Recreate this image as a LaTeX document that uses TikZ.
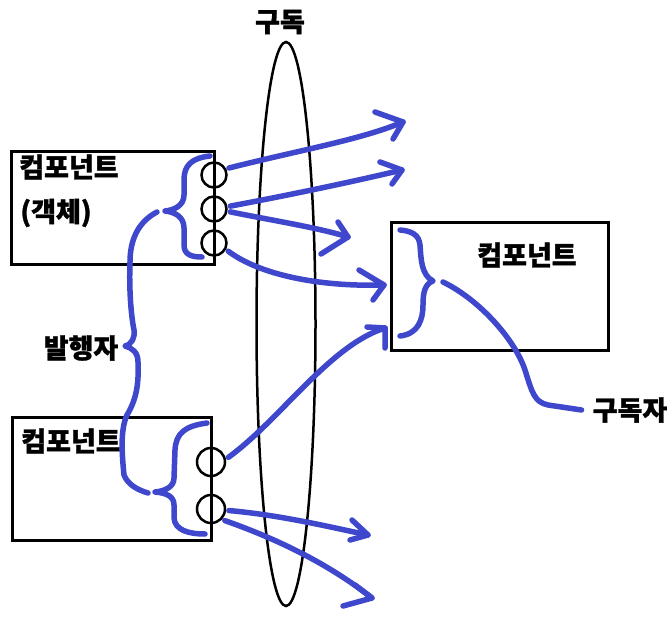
\documentclass[tikz,border=0pt]{standalone}
\usepackage{fontspec}
\newfontfamily\kr{Noto Sans CJK KR}[BoldFeatures={FakeBold=1.2}]
\usetikzlibrary{shapes.geometric,calc}
\definecolor{penblue}{RGB}{63,72,204}
\tikzset{
  blueline/.style={draw=penblue, line width=5.5pt, line cap=round, line join=round},
  compbox/.style={draw=black, line width=3pt, rectangle, inner sep=0pt},
  port/.style={draw=black, line width=2.5pt, circle, inner sep=0pt, minimum size=25pt, outer sep=4pt},
  lbl/.style={font=\kr\bfseries\fontsize{27}{30}\selectfont, inner sep=0pt, text=black},
}
\begin{document}
\begin{tikzpicture}[x=1pt,y=-1pt]
\useasboundingbox[fill=white] (0,0) rectangle (672,620);

% boxes
\node[compbox, minimum width=203pt, minimum height=113pt] (box1) at (112.5,208.5) {};
\node[compbox, minimum width=199pt, minimum height=123pt] (box2) at (111.5,478.5) {};
\node[compbox, minimum width=217pt, minimum height=127pt] (box3) at (499.5,286.5) {};

% subscription ellipse
\node[draw=black, line width=2.5pt, ellipse, minimum width=59pt, minimum height=564pt, inner sep=0pt] (sub) at (286,324) {};

% labels
\node[lbl] (t-sub) at (280,22) {구독};
\node[lbl] (t-c1) at (69,167) {컴포넌트};
\node[lbl] (t-obj) at (56,213) {(객체)};
\node[lbl] (t-c2) at (71,441) {컴포넌트};
\node[lbl] (t-c3) at (527,255) {컴포넌트};
\node[lbl] (t-pub) at (81,348) {발행자};
\node[lbl] (t-subr) at (630,410) {구독자};

% ports
\node[port] (c1) at (214,175) {};
\node[port] (c2) at (214,209) {};
\node[port] (c3) at (214,243) {};
\node[port, minimum size=28pt] (d1) at (211,462) {};
\node[port, minimum size=28pt] (d2) at (211,509) {};

% arrow tips
\coordinate (a1) at (403,122);
\coordinate (a2) at (402,170);
\coordinate (a3) at (348,237);
\coordinate (a4) at (384,285);
\coordinate (a5) at (385,328);
\coordinate (a6) at (368,535);
\coordinate (a7) at (372,598);

% arrows
\draw[blueline] (c1.25) .. controls (300,150) and (360,140) .. (a1);
\draw[blueline] ($(a1)+(-28,-10)$) -- (a1) -- ($(a1)+(-10,17)$);
\draw[blueline] (c2.10) .. controls (300,193) and (360,180) .. (a2);
\draw[blueline] ($(a2)+(-22,-8)$) -- (a2) -- ($(a2)+(-10,14)$);
\draw[blueline] (c2.-10) .. controls (270,220) and (320,228) .. (a3);
\draw[blueline] ($(a3)+(-10,-15)$) -- (a3) -- ($(a3)+(-27,17)$);
\draw[blueline] (c3.-30) .. controls (260,275) and (320,287) .. (a4);
\draw[blueline] ($(a4)+(-25,-15)$) -- (a4) -- ($(a4)+(-11,15)$);
\draw[blueline] (d1.15) .. controls (280,420) and (330,345) .. (a5);
\draw[blueline] ($(a5)+(-18,-1)$) -- (a5) -- ($(a5)+(0,20)$);
\draw[blueline] (d2.-5) .. controls (280,515) and (330,527) .. (a6);
\draw[blueline] ($(a6)+(-16,-15)$) -- (a6) -- ($(a6)+(-18,5)$);
\draw[blueline] (d2.-40) .. controls (280,540) and (330,565) .. (a7);
\draw[blueline] ($(a7)+(-17,-13)$) -- (a7) -- ($(a7)+(-29,8)$);

% brace on top component ports
\draw[blueline] (210,156) .. controls (192,158) and (184,165) .. (184,180) -- (184,195)
  .. controls (184,205) and (175,210) .. (165,211)
  .. controls (175,212) and (184,217) .. (184,228) -- (184,245)
  .. controls (184,255) and (192,257) .. (202,257);

% brace on bottom component ports
\draw[blueline] (207,423) .. controls (185,426) and (176,433) .. (175,450) -- (174,478)
  .. controls (174,487) and (165,491) .. (155,492)
  .. controls (166,493) and (174,496) .. (174,505) -- (174,518)
  .. controls (175,530) and (188,534) .. (205,534);

% publisher brace
\draw[blueline] (157,212) .. controls (138,222) and (130,240) .. (130,262)
  .. controls (129,290) and (131,315) .. (134,330)
  .. controls (135,338) and (132,344) .. (125,346)
  .. controls (132,348) and (138,352) .. (138,362)
  .. controls (139,385) and (136,400) .. (127,415)
  .. controls (120,430) and (122,455) .. (124,475)
  .. controls (128,485) and (138,490) .. (148,493);

% subscriber brace
\draw[blueline] (400,230) .. controls (412,231) and (419,235) .. (420,245)
  .. controls (421,258) and (421,275) .. (433,281)
  .. controls (425,284) and (423,292) .. (423,305)
  .. controls (423,320) and (418,334) .. (400,336);

% subscriber line
\draw[blueline] (443,282) .. controls (480,300) and (515,340) .. (525,370)
  .. controls (532,392) and (534,402) .. (548,405)
  -- ([xshift=-11pt]t-subr.west);
\end{tikzpicture}
\end{document}
